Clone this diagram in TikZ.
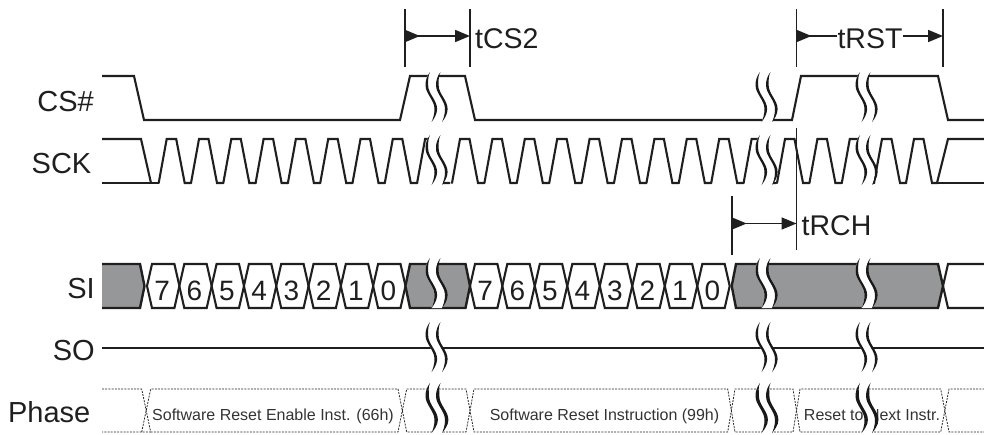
\documentclass[tikz,border=0pt]{standalone}
\usepackage{fontspec}
\setmainfont{Liberation Sans}
\usetikzlibrary{arrows.meta}
\tikzset{
  sig/.style={line width=2.1pt,black!88,line join=miter,line cap=butt},
  bus/.style={line width=2.4pt,black!88,line join=miter},
  buscell/.style={line width=2.1pt,black!88,line join=miter},
  phase/.style={line width=0.8pt,black!85,dash pattern=on 2pt off 1.2pt},
  tick/.style={line width=1.8pt,black!88},
  span/.style={line width=1.7pt,black!88,{Triangle[length=15pt,width=12pt,reversed]}-{Triangle[length=15pt,width=12pt]}},
  spanl/.style={line width=1.7pt,black!88,{Triangle[length=15pt,width=12pt,reversed]}-},
  spanr/.style={line width=1.7pt,black!88,-{Triangle[length=15pt,width=12pt]}},
  lab/.style={font=\fontsize{29}{29}\selectfont,inner sep=0pt,text=black!88},
  digit/.style={font=\fontsize{28}{28}\selectfont,inner sep=0pt,text=black!88,anchor=base},
  phtext/.style={font=\fontsize{16}{16}\selectfont,inner sep=0pt,text=black!80,anchor=base},
}
\definecolor{busgrey}{RGB}{150,151,153}
% break mark: #1 thickness of the stroke, #2 x of the top point, #3 y of the top
\newcommand{\brkmark}[3][2.6]{%
  \begin{scope}[shift={(#2,#3)}]
    \fill[white] (0,0) -- (10.5,0) .. controls (7.5,4) and (6,8) .. (6,13) .. controls (6,22) and (15,28) .. (15,37) .. controls (15,42) and (13.5,47) .. (12,50) -- (1.5,50) .. controls (3,47) and (4.5,42) .. (4.5,37) .. controls (4.5,28) and (-4.5,22) .. (-4.5,13) .. controls (-4.5,8) and (-3,4) .. (0,0) -- cycle;
    \foreach \dx in {0,10.5}{
      \fill[black!90,shift={(\dx,0)}] (0,0) .. controls (-3,4) and (-4.5,8) .. (-4.5,13) .. controls (-4.5,22) and (4.5,28) .. (4.5,37) .. controls (4.5,42) and (3,47) .. (1.5,50) .. controls (4,47) and (4.5+#1,42) .. (4.5+#1,37) .. controls (4.5+#1,28) and (-4.5+#1,22) .. (-4.5+#1,13) .. controls (-4.5+#1,8) and (-2,4) .. (0,0) -- cycle;
    }
  \end{scope}}
\begin{document}
\begin{tikzpicture}[x=1pt,y=-1pt]
\useasboundingbox (0,0) rectangle (984,434);
% row labels
\node[lab,anchor=base east] (lcs) at (94,111) {CS\#};
\node[lab,anchor=base east] (lsck) at (91.5,173) {SCK};
\node[lab,anchor=base east] (lsi) at (95,298) {SI};
\node[lab,anchor=base east] (lso) at (95,360) {SO};
\node[lab,anchor=base east] (lph) at (90.5,422.5) {Phase};
% CS#
\draw[sig] (102,76) -- (134,76) -- (144,120) -- (400,120) -- (410,76) -- (465,76) -- (475,120) -- (792,120) -- (801,76) -- (938,76) -- (948,120) -- (984,120);
% SCK
\draw[sig] (102,139) -- (141,139) -- (151,183);
\draw[sig] (102,183) -- (159,183);
\foreach \t in {166.7,199,231.3,263.6,295.9,328.2,360.5,392.8,425.1,460,492.4,524.8,557.2,589.6,622,654.4,686.8,719.2,751.6,785,817.4,849.8,882,914}{
  \draw[sig,line cap=round] (\t-8,183) -- (\t,139) -- (\t+9.5,139) -- (\t+18,183) -- (\t+24.4,183);
}
\draw[sig] (932,183) -- (984,183);
\draw[sig] (937,183) -- (948,139) -- (984,139);
% SI
\fill[busgrey] (102,264) -- (140,264) -- (144.5,286) -- (140,308) -- (102,308) -- cycle;
\draw[bus] (102,264) -- (140,264) -- (144.5,286) -- (140,308) -- (102,308);
\foreach \c/\d [count=\k] in {147/7,179.3/6,211.6/5,243.9/4,276.2/3,308.5/2,340.8/1,373.1/0,470/7,502.3/6,534.8/5,567.3/4,599.8/3,632.3/2,664.8/1,697.3/0}{
  \draw[buscell] (\c,286) -- (\c+5,264) -- (\c+27.4,264) -- (\c+32.4,286) -- (\c+27.4,308) -- (\c+5,308) -- cycle;
  \node[digit] (d\k) at (\c+15.2,300) {\d};
}
\fill[busgrey] (405.4,286) -- (410,264) -- (465.5,264) -- (470,286) -- (465.5,308) -- (410,308) -- cycle;
\draw[bus] (405.4,286) -- (410,264) -- (465.5,264) -- (470,286) -- (465.5,308) -- (410,308) -- cycle;
\fill[busgrey] (731.7,286) -- (736,264) -- (938,264) -- (943,286) -- (938,308) -- (736,308) -- cycle;
\draw[bus] (731.7,286) -- (736,264) -- (938,264) -- (943,286) -- (938,308) -- (736,308) -- cycle;
\draw[buscell] (984,264) -- (948,264) -- (943,286) -- (948,308) -- (984,308);
% SO
\draw[sig,line width=2.2pt] (102,348) -- (984,348);
% Phase
\draw[phase] (102,389) -- (141.7,389) -- (150.7,432) -- (102,432);
\draw[phase] (141.7,432) -- (150.7,389) -- (398,389) -- (406.7,432) -- (466,432) -- (474,389) -- (727.7,389) -- (735,432) -- (793,432) -- (800,389) -- (940.7,389) -- (949,432) -- (984,432);
\draw[phase] (150.7,432) -- (398,432) -- (406.7,389) -- (466,389) -- (474,432) -- (727.7,432) -- (735,389) -- (793,389) -- (800,432) -- (940.7,432) -- (949,389) -- (984,389);
\node[phtext] (p1) at (273,420) {Software Reset Enable Inst. (66h)};
\node[phtext] (p2) at (604.5,420) {Software Reset Instruction (99h)};
\node[phtext] (p3) at (872,420) {Reset to Next Instr.};
% breaks
\foreach \x in {430,760,860}{
  \brkmark{\x}{72}
  \brkmark{\x}{135}
  \brkmark{\x}{258}
  \brkmark{\x}{322}
  \brkmark[3.4]{\x}{383}
}
% timing marks
\coordinate (a1) at (405,9); \coordinate (a2) at (405,67);
\coordinate (b1) at (470,9); \coordinate (b2) at (470,67);
\coordinate (c1) at (796.5,9); \coordinate (c2) at (796.5,67);
\coordinate (e1) at (943,9); \coordinate (e2) at (943,67);
\coordinate (f1) at (731.7,196); \coordinate (f2) at (731.7,255);
\coordinate (g1) at (796.5,128); \coordinate (g2) at (796.5,250);
\draw[tick] (a1) -- (a2);
\draw[tick] (b1) -- (b2);
\draw[tick] (c1) -- (c2);
\draw[tick] (e1) -- (e2);
\draw[tick] (f1) -- (f2);
\draw[tick] (g1) -- (g2);
\coordinate (as) at (405,36); \coordinate (bs) at (470,36);
\coordinate (cs) at (796.5,36); \coordinate (es) at (943,36);
\coordinate (fs) at (731.7,223.5); \coordinate (gs) at (796.5,223.5);
\draw[span] (as) -- (bs);
\draw[span] (fs) -- (gs);
\node[lab,font=\fontsize{28.5}{28.5}\selectfont,anchor=base west] (tcs) at (475,48) {tCS2};
\node[lab,font=\fontsize{28.5}{28.5}\selectfont,anchor=base] (trst) at (870,48) {tRST};
\node[lab,font=\fontsize{28.5}{28.5}\selectfont,anchor=base west] (trch) at (801.5,235) {tRCH};
\draw[spanl] (cs) -- (trst.west |- cs);
\draw[spanr] (trst.east |- es) -- (es);
\end{tikzpicture}
\end{document}
